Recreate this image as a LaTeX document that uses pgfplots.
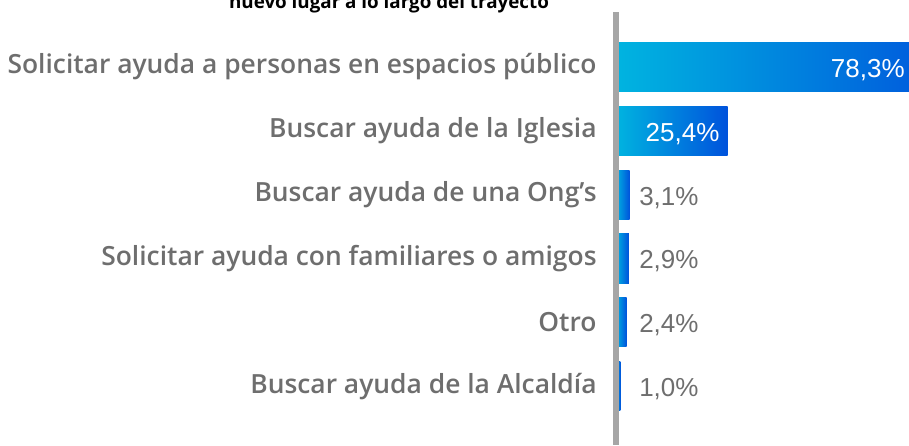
\documentclass[border=0pt]{standalone}
\usepackage{fontspec}
\usepackage{pgfplots}
\usepackage{pgfplotstable}
\pgfplotsset{compat=1.18}
\setmainfont{Open Sans}
\newfontfamily\catfont{Open Sans Semibold}
\newfontfamily\numfont{Liberation Sans}
\definecolor{barL}{HTML}{00B4E0}
\definecolor{barR}{HTML}{0052DC}
\definecolor{txtgray}{HTML}{6E6E6E}
\definecolor{axgray}{HTML}{A6A6A6}

% labels inside the two long bars
\pgfplotstableread{
x y label
65.7 0 78,3\%
23.6 1 25,4\%
}\inlabels

% labels right of the short bars
\pgfplotstableread{
x y label
5.2 2 3,1\%
5.2 3 2,9\%
5.2 4 2,4\%
5.2 5 1,0\%
}\outlabels

\pgfplotsset{gradbar/.style={xbar, bar width=0.77, bar shift=0pt, draw=none,
  left color=barL, right color=barR}}

\begin{document}
\begin{tikzpicture}
\useasboundingbox (0,0) rectangle (454.5pt,222.5pt);
\node[font=\bfseries\fontsize{9.4}{11}\selectfont, anchor=base] at (194.5pt,218pt)
  {nuevo lugar a lo largo del trayecto};
\begin{axis}[
  at={(308pt,0pt)}, anchor=south west,
  scale only axis, width=146.5pt, height=216.5pt,
  xmin=0, xmax=66.6, ymin=-0.86, ymax=5.92, y dir=reverse,
  axis x line=none, axis y line*=left,
  y axis line style={draw=axgray, line width=3pt, -},
  axis on top,
  ytick={0,...,5},
  yticklabels={Solicitar ayuda a personas en espacios público,
    Buscar ayuda de la Iglesia, Buscar ayuda de una Ong’s,
    Solicitar ayuda con familiares o amigos, Otro,
    Buscar ayuda de la Alcaldía},
  major tick length=0pt,
  yticklabel style={font=\catfont\fontsize{13.2}{15}\selectfont, text=txtgray,
    inner sep=0pt, xshift=-9.5pt},
  clip=false,
]
% one plot per bar so that each bar gets its own gradient
\addplot[gradbar] coordinates {(78.3,0)};
\addplot[gradbar] coordinates {(25.4,1)};
\addplot[gradbar] coordinates {(3.1,2)};
\addplot[gradbar] coordinates {(2.9,3)};
\addplot[gradbar] coordinates {(2.4,4)};
\addplot[gradbar] coordinates {(1.0,5)};
\addplot[draw=none, mark=none, nodes near coords, point meta=explicit symbolic,
  every node near coord/.append style={anchor=east, inner sep=0pt, text=white,
    yshift=-1.5pt, font=\numfont\fontsize{13}{15}\selectfont}]
  table[x=x, y=y, meta=label] {\inlabels};
\addplot[draw=none, mark=none, nodes near coords, point meta=explicit symbolic,
  every node near coord/.append style={anchor=west, inner sep=0pt, text=txtgray,
    yshift=-1.5pt, font=\numfont\fontsize{13}{15}\selectfont}]
  table[x=x, y=y, meta=label] {\outlabels};
\end{axis}
\end{tikzpicture}
\end{document}
